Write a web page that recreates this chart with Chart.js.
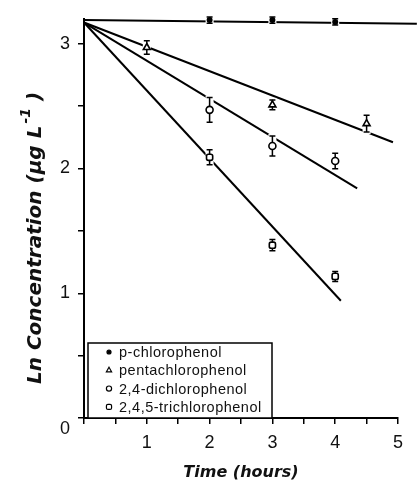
<!DOCTYPE html>
<html>
<head>
<meta charset="utf-8">
<script src="https://cdn.jsdelivr.net/npm/chart.js@4.4.1/dist/chart.umd.min.js"></script>
<style>
  html, body { margin: 0; padding: 0; background: #fff; }
  #wrap { width: 418px; height: 482px; }
</style>
</head>
<body>
<div id="wrap"><canvas id="decayChart"></canvas></div>
<script>
// measured points (hours, ln conc) with half error bars
const pcpTime = [2, 3, 4];
const pcpLn = [3.19, 3.19, 3.175];
const pcpErr = [0.025, 0.025, 0.025];

const pentaTime = [1, 3, 4.5];
const pentaLn = [2.97, 2.51, 2.36];
const pentaErr = [0.055, 0.04, 0.067];

const dcpTime = [2, 3, 4];
const dcpLn = [2.47, 2.18, 2.06];
const dcpErr = [0.1, 0.08, 0.063];

const tcpTime = [2, 3, 4];
const tcpLn = [2.09, 1.385, 1.135];
const tcpErr = [0.06, 0.045, 0.04];

// fitted lines: start at t = 0, end where the printed line stops
const fitStartLn = [3.19, 3.17, 3.17, 3.17];
const fitEndTime = [5.3, 4.92, 4.35, 4.09];
const fitEndLn = [3.16, 2.21, 1.84, 0.94];

const seriesNames = ['p-chlorophenol', 'pentachlorophenol', '2,4-dichlorophenol', '2,4,5-trichlorophenol'];

const toPoints = (xs, ys) => xs.map((x, i) => ({ x: x, y: ys[i] }));

const fitLine = i => ({
    type: 'line',
    data: [{ x: 0, y: fitStartLn[i] }, { x: fitEndTime[i], y: fitEndLn[i] }],
    borderColor: '#000',
    borderWidth: 2,
    pointRadius: 0,
    showLine: true,
    fill: false,
    clip: false,
    order: 2
});

const markers = (i, xs, ys, errs, style, radius, filled) => ({
    label: seriesNames[i],
    data: toPoints(xs, ys),
    errors: errs,
    pointStyle: style,
    pointRadius: radius,
    pointBorderWidth: 1.6,
    pointBorderColor: '#000',
    pointBackgroundColor: filled ? '#000' : '#fff',
    showLine: false,
    clip: false,
    order: 1
});

// white gap + error bar behind each marker
const errorBars = {
    id: 'errorBars',
    beforeDatasetDraw(chart, args) {
        const ds = chart.data.datasets[args.index];
        if (!ds.errors) return;
        const { ctx, scales: { x, y } } = chart;
        ctx.save();
        ds.data.forEach((p, i) => {
            const px = x.getPixelForValue(p.x);
            const top = y.getPixelForValue(p.y + ds.errors[i]);
            const bot = y.getPixelForValue(p.y - ds.errors[i]);
            ctx.fillStyle = '#fff';
            ctx.fillRect(px - 4, top - 2, 8, bot - top + 4);
            ctx.strokeStyle = '#000';
            ctx.lineWidth = 1.5;
            ctx.beginPath();
            ctx.moveTo(px, top); ctx.lineTo(px, bot);
            ctx.moveTo(px - 3, top); ctx.lineTo(px + 3, top);
            ctx.moveTo(px - 3, bot); ctx.lineTo(px + 3, bot);
            ctx.stroke();
        });
        ctx.restore();
    }
};

const legendSizes = [2, 3, 2.6, 3];

const legendBox = {
    id: 'legendBox',
    afterDraw(chart) {
        const { ctx, chartArea } = chart;
        const left = chartArea.left + 4;
        const bottom = chartArea.bottom;
        const w = 184, h = 75;
        const top = bottom - h;
        ctx.save();
        ctx.fillStyle = '#fff';
        ctx.fillRect(left, top, w, h);
        ctx.strokeStyle = '#000';
        ctx.lineWidth = 1.5;
        ctx.strokeRect(left, top, w, h);

        const items = chart.data.datasets.filter(d => d.errors);
        ctx.font = '14.5px "Liberation Sans", Arial, sans-serif';
        ctx.letterSpacing = '0.5px';
        ctx.textBaseline = 'middle';
        items.forEach((d, i) => {
            const cy = top + 9 + i * 18.3;
            ctx.fillStyle = d.pointBackgroundColor;
            ctx.strokeStyle = '#000';
            ctx.lineWidth = 1.2;
            Chart.helpers.drawPoint(ctx, {
                pointStyle: d.pointStyle,
                radius: legendSizes[i],
                rotation: 0,
                borderWidth: 1.2
            }, left + 21, cy);
            ctx.fillStyle = '#111';
            ctx.fillText(d.label, left + 31, cy + 1);
        });
        ctx.restore();
    }
};

const axisTitles = {
    id: 'axisTitles',
    afterDraw(chart) {
        const { ctx, chartArea } = chart;
        ctx.save();
        ctx.fillStyle = '#111';

        // x title
        ctx.font = 'italic bold 16px "DejaVu Sans", sans-serif';
        ctx.textAlign = 'center';
        ctx.textBaseline = 'alphabetic';
        ctx.fillText('Time (hours)', (chartArea.left + chartArea.right) / 2, 477);

        // y title with superscript
        const main = 'Ln Concentration (\u00b5g L';
        const sup = '-1';
        const tail = ' )';
        const bigFont = 'italic bold 20px "DejaVu Sans", sans-serif';
        const supFont = 'italic bold 14px "DejaVu Sans", sans-serif';
        ctx.font = bigFont;
        const wMain = ctx.measureText(main).width;
        const wTail = ctx.measureText(tail).width;
        ctx.font = supFont;
        const wSup = ctx.measureText(sup).width;
        const total = wMain + wSup + 2 + wTail;

        ctx.translate(41, 238);
        ctx.rotate(-Math.PI / 2);
        ctx.textAlign = 'left';
        let cx = -total / 2;
        ctx.font = bigFont;
        ctx.fillText(main, cx, 0);
        cx += wMain + 2;
        ctx.font = supFont;
        ctx.fillText(sup, cx, -11);
        cx += wSup;
        ctx.font = bigFont;
        ctx.fillText(tail, cx, 0);
        ctx.restore();
    }
};

const tickFont = { family: '"Liberation Sans", Arial, sans-serif', size: 18 };

new Chart(document.getElementById('decayChart'), {
    type: 'scatter',
    data: {
        datasets: [
            markers(0, pcpTime, pcpLn, pcpErr, 'circle', 2.2, true),
            markers(1, pentaTime, pentaLn, pentaErr, 'triangle', 4, false),
            markers(2, dcpTime, dcpLn, dcpErr, 'circle', 3.5, false),
            markers(3, tcpTime, tcpLn, tcpErr, 'rectRounded', 3.6, false),
            fitLine(0),
            fitLine(1),
            fitLine(2),
            fitLine(3)
        ]
    },
    options: {
        responsive: true,
        maintainAspectRatio: false,
        animation: false,
        layout: {
            padding: { top: 15, right: 20, left: 0, bottom: 0 }
        },
        scales: {
            x: {
                type: 'linear',
                position: 'bottom',
                min: 0,
                max: 5,
                afterFit: s => { s.height = 64; },
                border: { color: '#000', width: 2 },
                grid: {
                    drawOnChartArea: false,
                    color: '#000',
                    lineWidth: 1.5,
                    tickLength: 6
                },
                ticks: {
                    stepSize: 0.5,
                    autoSkip: false,
                    maxRotation: 0,
                    includeBounds: false,
                    padding: 8,
                    color: '#111',
                    font: tickFont,
                    callback: v => (Number.isInteger(v) && v > 0 ? String(v) : '')
                }
            },
            y: {
                min: 0,
                max: 3.2,
                afterFit: s => { s.width = 84; },
                border: { color: '#000', width: 2 },
                grid: {
                    drawOnChartArea: false,
                    color: '#000',
                    lineWidth: 1.5,
                    tickLength: 6
                },
                ticks: {
                    stepSize: 0.5,
                    autoSkip: false,
                    includeBounds: false,
                    padding: 8,
                    color: '#111',
                    font: tickFont,
                    callback: v => {
                        if (v === 0) return ['', '0'];
                        return Number.isInteger(v) ? String(v) : '';
                    }
                }
            }
        },
        plugins: {
            legend: { display: false },
            tooltip: { enabled: false }
        }
    },
    plugins: [errorBars, legendBox, axisTitles]
});
</script>
</body>
</html>
